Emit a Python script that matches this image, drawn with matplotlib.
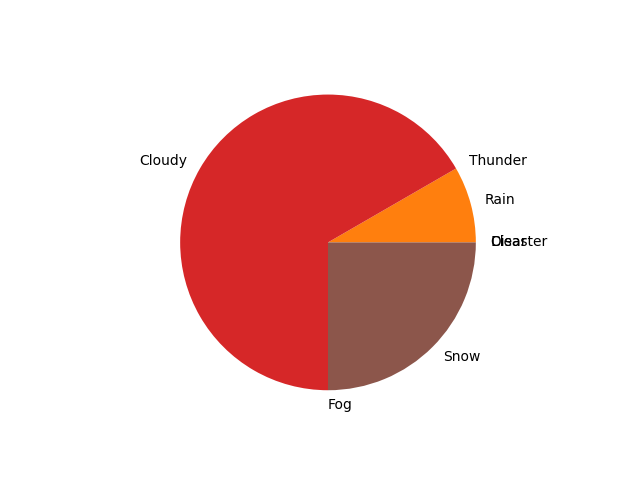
import matplotlib
matplotlib.use("Agg")
import matplotlib.pyplot as plt

labels = ["Clear", "Rain", "Thunder", "Cloudy", "Fog", "Snow", "Disaster"]
counts = [0, 1, 0, 8, 0, 3, 0]

fig, ax = plt.subplots(figsize=(6.4, 4.8), dpi=100)
ax.pie(counts, labels=labels)
plt.savefig("out.png")
